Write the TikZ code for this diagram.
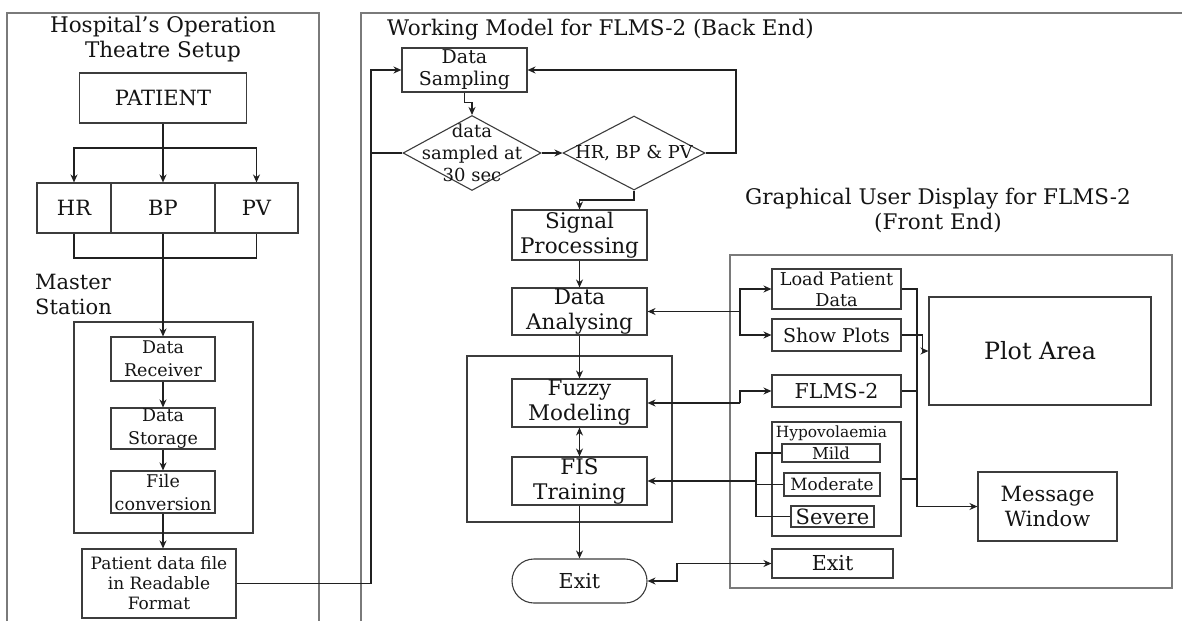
\documentclass[tikz,border=0pt]{standalone}
\usepackage{fontspec}
\setmainfont{DejaVu Serif}
\usetikzlibrary{arrows.meta,shapes.geometric}
\definecolor{boxc}{HTML}{3C3C3C}
\definecolor{linec}{HTML}{202020}
\definecolor{panelc}{HTML}{7A7A7A}
\definecolor{txt}{HTML}{141414}
\tikzset{
  box/.style={draw=boxc, line width=1.1pt, inner sep=0pt, align=center, text=txt},
  lbl/.style={inner sep=0pt, align=center, text=txt},
  arr/.style={-{Stealth[length=8pt,width=7pt]}, line width=1.1pt, draw=linec},
  darr/.style={{Stealth[length=8pt,width=7pt]}-{Stealth[length=8pt,width=7pt]}, line width=1.1pt, draw=linec},
  ln/.style={line width=1.1pt, draw=linec},
  panel/.style={draw=panelc, line width=1.6pt},
  fT/.style={font=\fontsize{21.5}{25}\selectfont},
  fM/.style={font=\fontsize{21}{25}\selectfont},
  fS/.style={font=\fontsize{17.5}{23}\selectfont},
  fD/.style={font=\fontsize{18}{22}\selectfont},
  fR/.style={font=\fontsize{17.7}{21}\selectfont},
}
\begin{document}
\begin{tikzpicture}[x=1pt,y=-1pt]
\useasboundingbox (0,0) rectangle (1182,621);
% ---------- panels ----------
\draw[panel] (7,621) -- (7,13) -- (319,13) -- (319,621);
\draw[panel] (361,621) -- (361,13) -- (1182,13);
\node[lbl,fT] (ltitle) at (163,39.5) {Hospital’s Operation\\Theatre Setup};
\node[lbl,fT,anchor=west] (mtitle) at (387,30) {Working Model for FLMS-2 (Back End)};
\node[lbl,fT] (gtitle) at (938,210.5) {Graphical User Display for FLMS-2\\(Front End)};

% ---------- left panel ----------
\node[box,fM,minimum width=167,minimum height=50] (patient) at (163,98) {PATIENT};
\node[box,fM,minimum width=74,minimum height=50] (hr) at (74,208) {HR};
\node[box,fM,minimum width=104,minimum height=50] (bp) at (163,208) {BP};
\node[box,fM,minimum width=83,minimum height=50] (pv) at (256.5,208) {PV};
\coordinate (pB) at (163,148);
\draw[ln] (patient.south) -- (pB);
\draw[arr] (pB) -| (hr.north);
\draw[arr] (pB) -| (pv.north);
\draw[arr] (pB) -- (bp.north);
\coordinate (qB) at (163,258);
\draw[ln] (hr.south) |- (qB) -| (pv.south);
\node[lbl,fM,align=left,anchor=west] (mst) at (35,294.5) {Master\\Station};
\node[draw=boxc,line width=1.1pt,minimum width=179,minimum height=211,inner sep=0pt] (msbox) at (163.5,427.5) {};
\node[box,fS,minimum width=104,minimum height=44] (recv) at (163,359) {Data\\Receiver};
\node[box,fS,minimum width=104,minimum height=41] (stor) at (163,428.5) {Data\\Storage};
\node[box,fS,minimum width=104,minimum height=42] (conv) at (163,492) {File\\conversion};
\node[box,font=\fontsize{17}{20}\selectfont,minimum width=154,minimum height=69] (file) at (159,583.5) {Patient data file\\in Readable\\Format};
\draw[arr] (bp.south) -- (recv.north);
\draw[arr] (recv) -- (stor);
\draw[arr] (stor) -- (conv);
\draw[arr] (conv.south) -- (conv.south |- file.north);

% ---------- middle panel ----------
\node[box,font=\fontsize{19}{22}\selectfont,minimum width=125,minimum height=44] (samp) at (464.5,70) {Data\\Sampling};
\node[draw=boxc,line width=1.1pt,shape=diamond,minimum width=138,minimum height=75,inner sep=0pt] (d1) at (472,153) {};
\node[lbl,fD] (d1t) at (472,153) {data\\sampled at\\30 sec};
\node[draw=boxc,line width=1.1pt,shape=diamond,minimum width=142,minimum height=74,inner sep=0pt] (d2) at (634,153) {};
\node[lbl,font=\fontsize{17.8}{22}\selectfont] (d2t) at (634,153) {HR, BP \& PV};
\node[box,fT,minimum width=135,minimum height=50] (sig) at (579.5,235) {Signal\\Processing};
\node[box,fT,minimum width=135,minimum height=47] (ana) at (579.5,311.5) {Data\\Analysing};
\node[draw=boxc,line width=1.1pt,minimum width=205,minimum height=166,inner sep=0pt] (ibox) at (569.5,439) {};
\node[box,fT,minimum width=135,minimum height=48] (fuzzy) at (579.5,403) {Fuzzy\\Modeling};
\node[box,fT,minimum width=135,minimum height=48] (fis) at (579.5,481) {FIS\\Training};
\node[box,font=\fontsize{20.6}{24}\selectfont,minimum width=135,minimum height=44,rounded corners=22pt] (exitA) at (579.5,581) {Exit};

\coordinate (busx) at (371,153);
\draw[arr] (file.east) -| (busx) |- (samp.west);
\draw[ln] (busx) -- (d1.west);
\draw[arr] (samp.south) -- ++(0,10) -| (d1.north);
\draw[arr] (d1.east) -- (d2.west);
\coordinate (rb) at (736,153);
\draw[arr] (d2.east) -- (rb) |- (samp.east);
\coordinate (sb) at (634,200);
\draw[arr] (d2.south) -- (sb) -| (sig.north);
\draw[arr] (sig) -- (ana);
\draw[arr] (ana) -- (fuzzy);
\draw[darr] (fuzzy) -- (fis);
\draw[arr] (fis) -- (exitA);

% ---------- right panel (GUI) ----------
\node[draw=panelc,line width=1.4pt,minimum width=442,minimum height=333,inner sep=0pt] (gui) at (951,421.5) {};
\node[box,fR,minimum width=129,minimum height=40] (load) at (836.5,289) {Load Patient\\Data};
\node[box,font=\fontsize{19}{22}\selectfont,minimum width=129,minimum height=32] (show) at (836.5,335) {Show Plots};
\node[box,font=\fontsize{20.5}{24}\selectfont,minimum width=129,minimum height=32] (flms) at (836.5,391) {FLMS-2};
\node[box,minimum width=129,minimum height=114] (hypo) at (836.5,479) {};
\node[lbl,font=\fontsize{15.4}{18}\selectfont] (hypot) at (831.5,433) {Hypovolaemia};
\node[box,font=\fontsize{16.5}{18}\selectfont,minimum width=98,minimum height=18] (mild) at (831,453) {Mild};
\node[box,font=\fontsize{16.9}{20}\selectfont,minimum width=96,minimum height=23] (mod) at (832,484.5) {Moderate};
\node[box,font=\fontsize{21}{24}\selectfont,minimum width=83,minimum height=21] (sev) at (832.5,516.5) {Severe};
\node[box,font=\fontsize{20.6}{24}\selectfont,minimum width=121,minimum height=29] (exitB) at (832.5,563.5) {Exit};
\node[box,font=\fontsize{23.8}{28}\selectfont,minimum width=222,minimum height=108] (plot) at (1040,351) {Plot Area};
\node[box,fM,minimum width=139,minimum height=69] (msg) at (1047.5,506.5) {Message\\Window};

\coordinate (gA) at (740,311.5);
\draw[arr] (gA) -- (ana.east);
\draw[arr] (gA) |- (load.west);
\draw[arr] (gA) |- (show.west);
\coordinate (gB) at (740,403);
\draw[arr] (gB) -- (fuzzy.east);
\draw[arr] (gB) |- (flms.west);
\coordinate (gC) at (756,481);
\draw[arr] (gC) -- (fis.east);
\draw[ln] (gC) |- (mild.west);
\draw[ln] (gC) |- (sev.west);
\draw[ln] (gC) |- (mod.west);
\coordinate (gD) at (677,581);
\draw[darr] (exitA.east) -- (gD) |- (exitB.west);
\coordinate (gE) at (917,506.5);
\draw[arr] (load.east) -| (gE) -- (msg.west);
\draw[ln] (flms.east) -- (flms.east -| gE);
\draw[ln] (hypo.east) -- (hypo.east -| gE);
\draw[arr] (show.east) -- ++(21,0) |- (plot.west);
\end{tikzpicture}
\end{document}
